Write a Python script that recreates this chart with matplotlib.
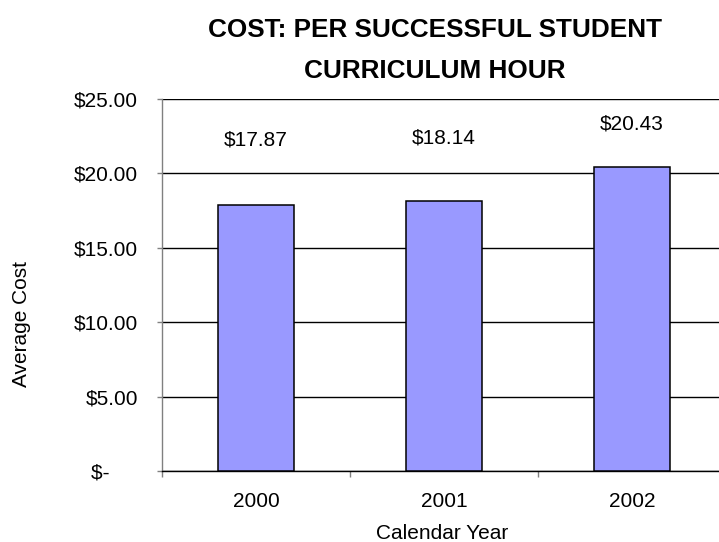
import matplotlib
matplotlib.use("Agg")
import matplotlib.pyplot as plt
import numpy as np

# average cost per successful student curriculum hour
years = ["2000", "2001", "2002"]
avg_cost = [17.87, 18.14, 20.43]
cost_labels = ["$17.87", "$18.14", "$20.43"]
label_base = [21.85, 22.0, 22.95]  # baseline height of the value labels
y_ticks = [0, 5, 10, 15, 20, 25]
y_tick_labels = ["$-     ", "$5.00", "$10.00", "$15.00", "$20.00", "$25.00"]

plt.rcParams['font.family'] = ['Liberation Sans', 'DejaVu Sans']

fig = plt.figure(figsize=(7.19, 5.42), dpi=100)
ax = fig.add_axes([162 / 719, 71 / 542, 564 / 719, 372 / 542])

x = np.arange(len(years))
ax.bar(x, avg_cost, width=0.4, color='#9999FF', edgecolor='black',
       linewidth=1.1, zorder=3)

for xi, txt, yb in zip(x, cost_labels, label_base):
    ax.text(xi, yb, txt, ha='center', va='baseline', fontsize=15)

ax.set_xlim(-0.5, 2.5)
ax.set_ylim(0, 25)
ax.set_yticks(y_ticks)
ax.set_yticklabels(y_tick_labels, fontsize=15)
ax.yaxis.grid(True, color='black', linewidth=1.0, zorder=0)
ax.set_axisbelow(True)

ax.set_xticks(x)
ax.set_xticklabels(years, fontsize=15)
ax.set_xticks([-0.5, 0.5, 1.5, 2.5], minor=True)
ax.tick_params(axis='x', which='major', length=0, pad=15)
ax.tick_params(axis='x', which='minor', length=4.3, direction='out',
               color='#808080', width=1.0)
ax.tick_params(axis='y', length=3.6, pad=13.7, color='#808080', width=1.0)

for s in ['top', 'right']:
    ax.spines[s].set_visible(False)
ax.spines['left'].set_color('#808080')
ax.spines['bottom'].set_color('black')
ax.spines['left'].set_linewidth(1.0)
ax.spines['bottom'].set_linewidth(1.0)

fig.text(435 / 719, 1 - 37 / 542, "COST: PER SUCCESSFUL STUDENT",
         ha='center', va='baseline', fontsize=18.8, fontweight='bold')
fig.text(435 / 719, 1 - 78 / 542, "CURRICULUM HOUR",
         ha='center', va='baseline', fontsize=18.8, fontweight='bold')
fig.text(442 / 719, 1 - 539 / 542, "Calendar Year",
         ha='center', va='baseline', fontsize=15)
fig.text(22 / 719, 1 - 324 / 542, "Average Cost", rotation=90,
         ha='center', va='center', fontsize=15)

fig.savefig("out.png", dpi=100)
